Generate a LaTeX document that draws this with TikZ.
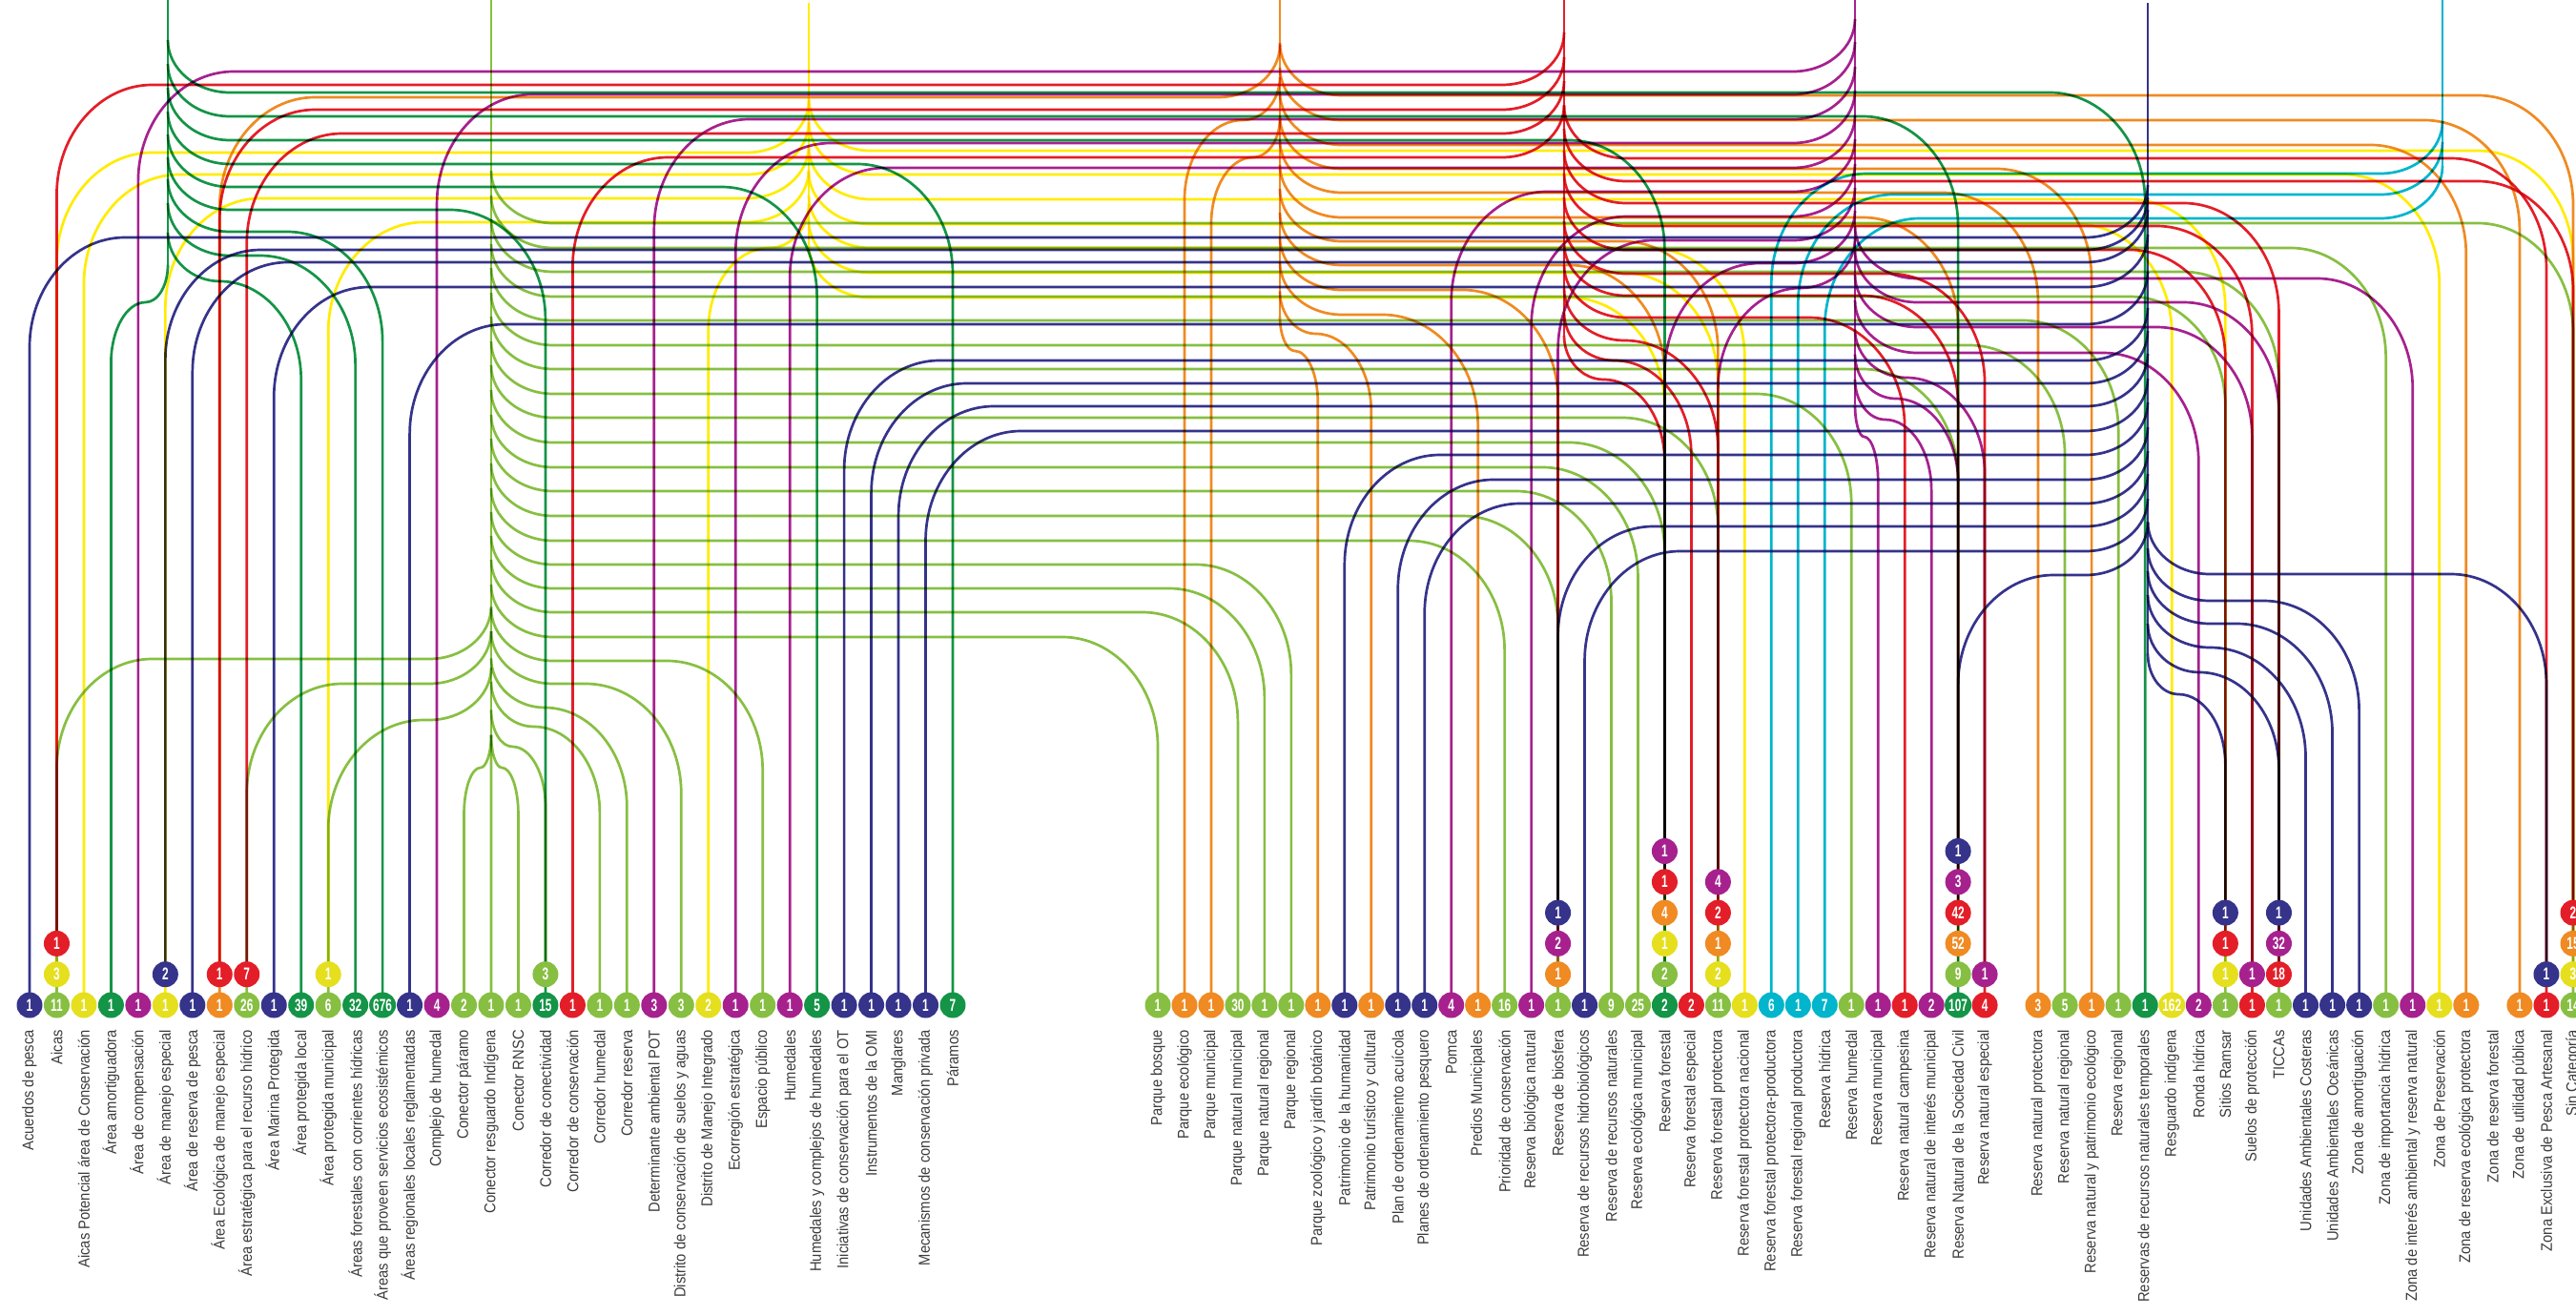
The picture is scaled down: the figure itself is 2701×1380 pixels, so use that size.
\documentclass[tikz,border=0pt]{standalone}
\usepackage{fontspec}
\setmainfont{Liberation Sans}[FakeStretch=0.9]
\newfontfamily\numfont{Liberation Sans}[FakeStretch=0.66]
\usetikzlibrary{shapes.geometric,calc}
\definecolor{cnv}{HTML}{35338A}
\definecolor{cdg}{HTML}{149447}
\definecolor{clg}{HTML}{87BF42}
\definecolor{cye}{HTML}{FFEC00}
\definecolor{cyb}{HTML}{E5DF1E}
\definecolor{cor}{HTML}{F08A22}
\definecolor{crd}{HTML}{E31E28}
\definecolor{cpu}{HTML}{A6218E}
\definecolor{ccy}{HTML}{00B5CC}
\definecolor{ctxt}{HTML}{3C3C3C}
\tikzset{
  ln/.style={line width=2.7pt, draw=#1, line join=round},
  bub/.style={ellipse, fill=#1, minimum width=27pt, minimum height=27pt, inner sep=0pt,
    text=white, font=\numfont\bfseries\fontsize{18}{18}\selectfont},
  lbl/.style={rotate=90, anchor=east, text=ctxt, inner sep=0pt, font=\fontsize{16.4}{16.4}\selectfont},
}
% branch: leaves the trunk of source #2 at level #4 and runs down to bubble #3
\newcommand\conn[4]{%
  \draw[ln=#1] let \p1=(#2), \p2=(#3),
    \n{d}={scalar(ifthenelse(\x2<\x1,-1,1))},
    \n{s}={scalar(min(1,abs(\x2-\x1)/165))},
    \n{y}={-(#4)},
    \n{tv}={30+25*\n{s}}, \n{cv}={35+80*\n{s}},
    \n{a}={scalar(\x1+(\n{d})*65*\n{s}*0.45)}, \n{b}={scalar(\x1+(\n{d})*65*\n{s})},
    \n{c}={scalar(\x2-(\n{d})*100*\n{s})}, \n{e}={scalar(\x2-(\n{d})*100*\n{s}*0.45)}
  in (\x1,\n{y}pt+\n{tv}pt) .. controls (\x1,\n{y}pt+0.45*\n{tv}pt) and (\n{a}pt,\n{y}pt) .. (\n{b}pt,\n{y}pt)
     -- (\n{c}pt,\n{y}pt) .. controls (\n{e}pt,\n{y}pt) and (\x2,\n{y}pt-0.45*\n{cv}pt) .. (\x2,\n{y}pt-\n{cv}pt) -- (\p2);
}
\def\bublist{L0a/L0/0/cnv/1, L1a/L1/0/clg/11, L1b/L1/1/cyb/3, L1c/L1/2/crd/1, L2a/L2/0/cyb/1,
L3a/L3/0/cdg/1, L4a/L4/0/cpu/1, L5a/L5/0/cyb/1, L5b/L5/1/cnv/2, L6a/L6/0/cnv/1,
L7a/L7/0/cor/1, L7b/L7/1/crd/1, L8a/L8/0/clg/26, L8b/L8/1/crd/7, L9a/L9/0/cnv/1,
L10a/L10/0/cdg/39, L11a/L11/0/clg/6, L11b/L11/1/cyb/1, L12a/L12/0/cdg/32, L13a/L13/0/cdg/676,
L14a/L14/0/cnv/1, L15a/L15/0/cpu/4, L16a/L16/0/clg/2, L17a/L17/0/clg/1, L18a/L18/0/clg/1,
L19a/L19/0/cdg/15, L19b/L19/1/clg/3, L20a/L20/0/crd/1, L21a/L21/0/clg/1, L22a/L22/0/clg/1,
L23a/L23/0/cpu/3, L24a/L24/0/clg/3, L25a/L25/0/cyb/2, L26a/L26/0/cpu/1, L27a/L27/0/clg/1,
L28a/L28/0/cpu/1, L29a/L29/0/cdg/5, L30a/L30/0/cnv/1, L31a/L31/0/cnv/1, L32a/L32/0/cnv/1,
L33a/L33/0/cnv/1, L34a/L34/0/cdg/7,
M0a/M0/0/clg/1, M1a/M1/0/cor/1, M2a/M2/0/cor/1, M3a/M3/0/clg/30, M4a/M4/0/clg/1,
M5a/M5/0/clg/1, M6a/M6/0/cor/1, M7a/M7/0/cnv/1, M8a/M8/0/cor/1, M9a/M9/0/cnv/1,
M10a/M10/0/cnv/1, M11a/M11/0/cpu/4, M12a/M12/0/cor/1, M13a/M13/0/clg/16, M14a/M14/0/cpu/1,
M15a/M15/0/clg/1, M15b/M15/1/cor/1, M15c/M15/2/cpu/2, M15d/M15/3/cnv/1,
M16a/M16/0/cnv/1, M17a/M17/0/clg/9, M18a/M18/0/clg/25,
M19a/M19/0/cdg/2, M19b/M19/1/clg/2, M19c/M19/2/cyb/1, M19d/M19/3/cor/4, M19e/M19/4/crd/1, M19f/M19/5/cpu/1,
M20a/M20/0/crd/2,
M21a/M21/0/clg/11, M21b/M21/1/cyb/2, M21c/M21/2/cor/1, M21d/M21/3/crd/2, M21e/M21/4/cpu/4,
M22a/M22/0/cyb/1, M23a/M23/0/ccy/6, M24a/M24/0/ccy/1, M25a/M25/0/ccy/7, M26a/M26/0/clg/1,
M27a/M27/0/cpu/1, M28a/M28/0/crd/1, M29a/M29/0/cpu/2,
M30a/M30/0/cdg/107, M30b/M30/1/clg/9, M30c/M30/2/cor/52, M30d/M30/3/crd/42, M30e/M30/4/cpu/3, M30f/M30/5/cnv/1,
M31a/M31/0/crd/4, M31b/M31/1/cpu/1,
R0a/R0/0/cor/3, R1a/R1/0/clg/5, R2a/R2/0/cor/1, R3a/R3/0/clg/1, R4a/R4/0/cdg/1,
R5a/R5/0/cyb/162, R6a/R6/0/cpu/2,
R7a/R7/0/clg/1, R7b/R7/1/cyb/1, R7c/R7/2/crd/1, R7d/R7/3/cnv/1,
R8a/R8/0/crd/1, R8b/R8/1/cpu/1,
R9a/R9/0/clg/1, R9b/R9/1/crd/18, R9c/R9/2/cpu/32, R9d/R9/3/cnv/1,
R10a/R10/0/cnv/1, R11a/R11/0/cnv/1, R12a/R12/0/cnv/1, R13a/R13/0/clg/1, R14a/R14/0/cpu/1,
R15a/R15/0/cyb/1, R16a/R16/0/cor/1, R18a/R18/0/cor/1,
R19a/R19/0/crd/1, R19b/R19/1/cnv/1,
R20a/R20/0/clg/14, R20b/R20/1/cyb/3, R20c/R20/2/cor/15, R20d/R20/3/crd/2}
% connections per source: target/level
\def\Ldg{L3a/317, R4a/97, M30a/122, M19a/147, L34a/172, L29a/196, L19a/220, L13a/243, L12a/268, L10a/295}
\def\Llg{R20a/234, R13a/260, R9a/285, R7a/311, R3a/336, R1a/362, M30b/387, M26a/413, M21a/438,
M19b/464, M18a/490, M17a/515, M15a/541, M13a/567, M5a/592, M4a/617, M3a/642, M0a/668,
L27a/693, L24a/717, L22a/742, L21a/762, L19b/783, L18a/805,
L1a/691, L8a/717, L11a/755, L16a/805, L17a/820}
\def\Lye{L1b/160, L2a/183, L5a/208, L11b/233, L25a/260, R20b/158, R15a/183, R7b/209, R5a/235,
M22a/260, M21b/286, M19c/312}
\def\Lor{L7a/102, M1a/126, M2a/165, R20c/100, R18a/126, R16a/152, R2a/177, R0a/202, M30c/228,
M21c/253, M19d/278, M15b/304, M12a/330, M8a/350, M6a/368}
\def\Lrd{L1c/89, L7b/115, L8b/140, L20a/165, R19a/166, R20d/190, R9b/213, R8a/237, R7c/262,
M31a/287, M30d/310, M28a/333, M21d/357, M20a/378, M19e/398}
\def\Lpu{L4a/75, L15a/99, L23a/125, L26a/150, L28a/176, M11a/201, M14a/227, M15c/252, M19f/276,
M21e/302, R14a/292, R9c/317, R8b/343, R6a/370, M31b/396, M30e/418, M29a/440, M27a/458}
\def\Lnv{L0a/249, L5b/262, L6a/275, L9a/301, L14a/340, L30a/378, L31a/402, L32a/426, L33a/452,
M7a/477, M9a/503, M10a/528, M15d/552, M16a/578, M30f/603,
R19b/602, R12a/630, R11a/654, R10a/679, R9d/705, R7d/728}
\def\Lcy{M23a/182, M24a/204, M25a/229}
\begin{document}
\begin{tikzpicture}[x=1pt,y=1pt]
\fill[white] (0,0) rectangle (2701,-1380);
\useasboundingbox (0,0) rectangle (2701,-1380);
% sources (top of each trunk) and trunk ends
\coordinate (Tdg) at (176,0);   \coordinate (Edg) at (176,-278);
\coordinate (Tlg) at (515,0);   \coordinate (Elg) at (515,-790);
\coordinate (Tye) at (848,-3);  \coordinate (Eye) at (848,-257);
\coordinate (Tor) at (1342,0);  \coordinate (Eor) at (1342,-332);
\coordinate (Trd) at (1640,0);  \coordinate (Erd) at (1640,-352);
\coordinate (Tpu) at (1945,0);  \coordinate (Epu) at (1945,-424);
\coordinate (Tnv) at (2252,-3); \coordinate (Env) at (2252,-686);
\coordinate (Tcy) at (2561,0);  \coordinate (Ecy) at (2561,-174);
% columns
\foreach \i in {0,...,34} {\coordinate (L\i) at ({31+28.47*\i},-1054);}
\foreach \i in {0,...,31} {\coordinate (M\i) at ({1214+27.97*\i},-1054);}
\foreach \i in {0,...,20} {\coordinate (R\i) at ({2137+28.05*\i},-1054);}
\foreach \bn/\bcol/\bk/\bc/\bv in \bublist {\coordinate (\bn) at ($(\bcol)+(0,{32.3*\bk})$);}
% connectors
\begin{scope}[blend mode=multiply]
\foreach \s/\c in {dg/cdg, lg/clg, ye/cye, or/cor, rd/crd, pu/cpu, nv/cnv, cy/ccy}
  {\draw[ln=\c] (T\s) -- (E\s);}
\foreach \ct/\cl in \Ldg {\conn{cdg}{Tdg}{\ct}{\cl}}
\foreach \ct/\cl in \Llg {\conn{clg}{Tlg}{\ct}{\cl}}
\foreach \ct/\cl in \Lye {\conn{cye}{Tye}{\ct}{\cl}}
\foreach \ct/\cl in \Lor {\conn{cor}{Tor}{\ct}{\cl}}
\foreach \ct/\cl in \Lrd {\conn{crd}{Trd}{\ct}{\cl}}
\foreach \ct/\cl in \Lpu {\conn{cpu}{Tpu}{\ct}{\cl}}
\foreach \ct/\cl in \Lnv {\conn{cnv}{Tnv}{\ct}{\cl}}
\foreach \ct/\cl in \Lcy {\conn{ccy}{Tcy}{\ct}{\cl}}
\end{scope}
% bubbles
\foreach \bn/\bcol/\bk/\bc/\bv in \bublist {\node[bub=\bc] (b\bn) at (\bn) {\bv};}
% labels
\foreach \i/\t in {0/Acuerdos de pesca, 1/Aicas, 2/Aicas Potencial área de Conservación,
 3/Área amortiguadora, 4/Área de compensación, 5/Área de manejo especial, 6/Área de reserva de pesca,
 7/Área Ecológica de manejo especial, 8/Área estratégica para el recurso hídrico, 9/Área Marina Protegida,
 10/Área protegida local, 11/Área protegida municipal, 12/Áreas forestales con corrientes hídricas,
 13/Áreas que proveen servicios ecosistémicos, 14/Áreas regionales locales reglamentadas,
 15/Complejo de humedal, 16/Conector páramo, 17/Conector resguardo Indígena, 18/Conector RNSC,
 19/Corredor de conectividad, 20/Corredor de conservación, 21/Corredor humedal, 22/Corredor reserva,
 23/Determinante ambiental POT, 24/Distrito de conservación de suelos y aguas,
 25/Distrito de Manejo Integrado, 26/Ecorregión estratégica, 27/Espacio público, 28/Humedales,
 29/Humedales y complejos de humedales, 30/Iniciativas de conservación para el OT,
 31/Instrumentos de la OMI, 32/Manglares, 33/Mecanismos de conservación privada, 34/Páramos}
 {\node[lbl] (tL\i) at ({31+28.47*\i},-1080) {\t};}
\foreach \i/\t in {0/Parque bosque, 1/Parque ecológico, 2/Parque municipal, 3/Parque natural municipal,
 4/Parque natural regional, 5/Parque regional, 6/Parque zoológico y jardín botánico,
 7/Patrimonio de la humanidad, 8/Patrimonio turístico y cultural, 9/Plan de ordenamiento acuícola,
 10/Planes de ordenamiento pesquero, 11/Pomca, 12/Predios Municipales, 13/Prioridad de conservación,
 14/Reserva biológica natural, 15/Reserva de biosfera, 16/Reserva de recursos hidrobiológicos,
 17/Reserva de recursos naturales, 18/Reserva ecológica municipal, 19/Reserva forestal,
 20/Reserva forestal especial, 21/Reserva forestal protectora, 22/Reserva forestal protectora nacional,
 23/Reserva forestal protectora-productora, 24/Reserva forestal regional productora,
 25/Reserva hídrica, 26/Reserva humedal, 27/Reserva municipal, 28/Reserva natural campesina,
 29/Reserva natural de interés municipal, 30/Reserva Natural de la Sociedad Civil,
 31/Reserva natural especial}
 {\node[lbl] (tM\i) at ({1214+27.97*\i},-1080) {\t};}
\foreach \i/\t in {0/Reserva natural protectora, 1/Reserva natural regional,
 2/Reserva natural y patrimonio ecológico, 3/Reserva regional,
 4/Reservas de recursos naturales temporales, 5/Resguardo indígena, 6/Ronda hídrica,
 7/Sitios Ramsar, 8/Suelos de protección, 9/TICCAs, 10/Unidades Ambientales Costeras,
 11/Unidades Ambientales Oceánicas, 12/Zona de amortiguación, 13/Zona de importancia hídrica,
 14/Zona de interés ambiental y reserva natural, 15/Zona de Preservación,
 16/Zona de reserva ecológica protectora, 17/Zona de reserva forestal, 18/Zona de utilidad pública,
 19/Zona Exclusiva de Pesca Artesanal, 20/Sin Categoría}
 {\node[lbl] (tR\i) at ({2137+28.05*\i},-1080) {\t};}
\end{tikzpicture}
\end{document}
